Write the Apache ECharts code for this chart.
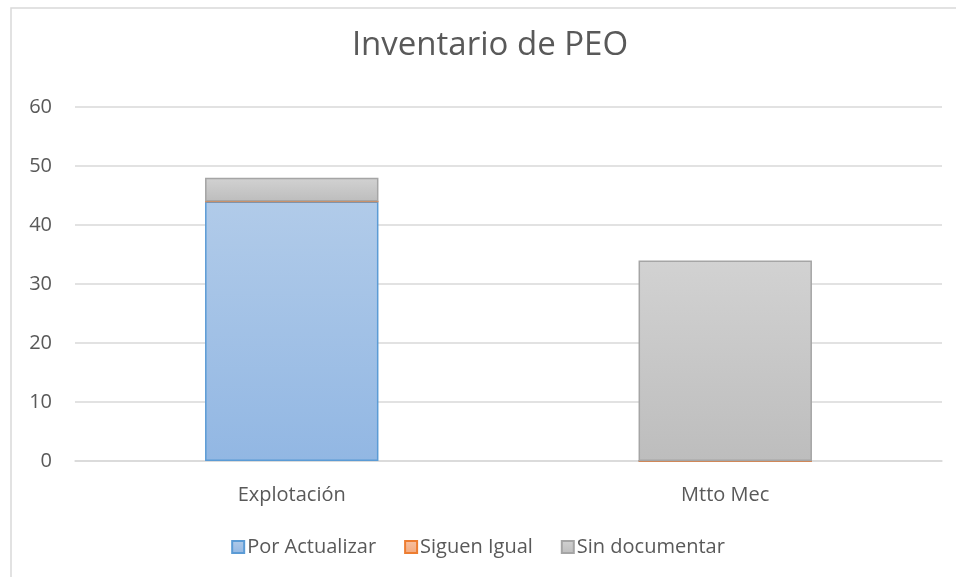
<!DOCTYPE html>
<html><head><meta charset="utf-8">
<script src="https://cdn.jsdelivr.net/npm/echarts@6/dist/echarts.min.js"></script>
<style>html,body{margin:0;padding:0;background:#fff}#c{width:956px;height:577px}</style>
</head><body><div id="c"></div>
<script>
const categories = ['Explotación', 'Mtto Mec'];
const porActualizar = [44, 0];
const siguenIgual = [0, 0];
const sinDocumentar = [4, 34];
const yTicks = [0, 10, 20, 30, 40, 50, 60];

const font = 'Open Sans';
const grad = (a, b) => new echarts.graphic.LinearGradient(0, 0, 0, 1, [{offset: 0, color: a}, {offset: 1, color: b}]);
const chart = echarts.init(document.getElementById('c'));
chart.setOption({
  animation: false,
  graphic: [{type: 'rect', shape: {x: 11, y: 8, width: 1000, height: 600}, style: {fill: 'none', stroke: '#d9d9d9', lineWidth: 1.5}, z: -1}],
  title: {text: 'Inventario de PEO', left: 485, top: 24, textAlign: 'center',
    textStyle: {fontFamily: font, fontSize: 33, fontWeight: 'normal', color: '#595959'}},
  grid: {left: 75, right: 14, top: 107, bottom: 116},
  legend: {bottom: 15, left: 'center', icon: 'rect', itemWidth: 12, itemHeight: 12, itemGap: 28,
    textStyle: {fontFamily: font, fontSize: 20, color: '#595959', padding: [0, 0, 0, -2]},
    data: ['Por Actualizar', 'Siguen Igual', 'Sin documentar']},
  xAxis: {type: 'category', data: categories,
    axisLine: {lineStyle: {color: '#d9d9d9', width: 1.5}}, axisTick: {show: false},
    axisLabel: {fontFamily: font, fontSize: 20, color: '#595959', margin: 24}},
  yAxis: {type: 'value', min: 0, max: 60, interval: 10,
    axisLine: {show: false}, axisTick: {show: false},
    splitLine: {lineStyle: {color: '#d9d9d9', width: 1.5}},
    axisLabel: {fontFamily: font, fontSize: 20, color: '#595959', margin: 23,
      formatter: v => yTicks.includes(v) ? String(v) : ''}},
  series: [
    {name: 'Por Actualizar', type: 'bar', stack: 's', data: porActualizar, barWidth: '40%',
      itemStyle: {color: grad('#b1cbe9', '#92b7e3'), borderColor: '#5b9bd5', borderWidth: 1.5}},
    {name: 'Siguen Igual', type: 'bar', stack: 's', data: siguenIgual,
      itemStyle: {color: grad('#f7c1a2', '#f3a97c'), borderColor: '#ed7d31', borderWidth: 1.5}},
    {name: 'Sin documentar', type: 'bar', stack: 's', data: sinDocumentar,
      itemStyle: {color: grad('#d2d2d2', '#bdbdbd'), borderColor: '#a5a5a5', borderWidth: 1.5}}
  ]
});
</script></body></html>
